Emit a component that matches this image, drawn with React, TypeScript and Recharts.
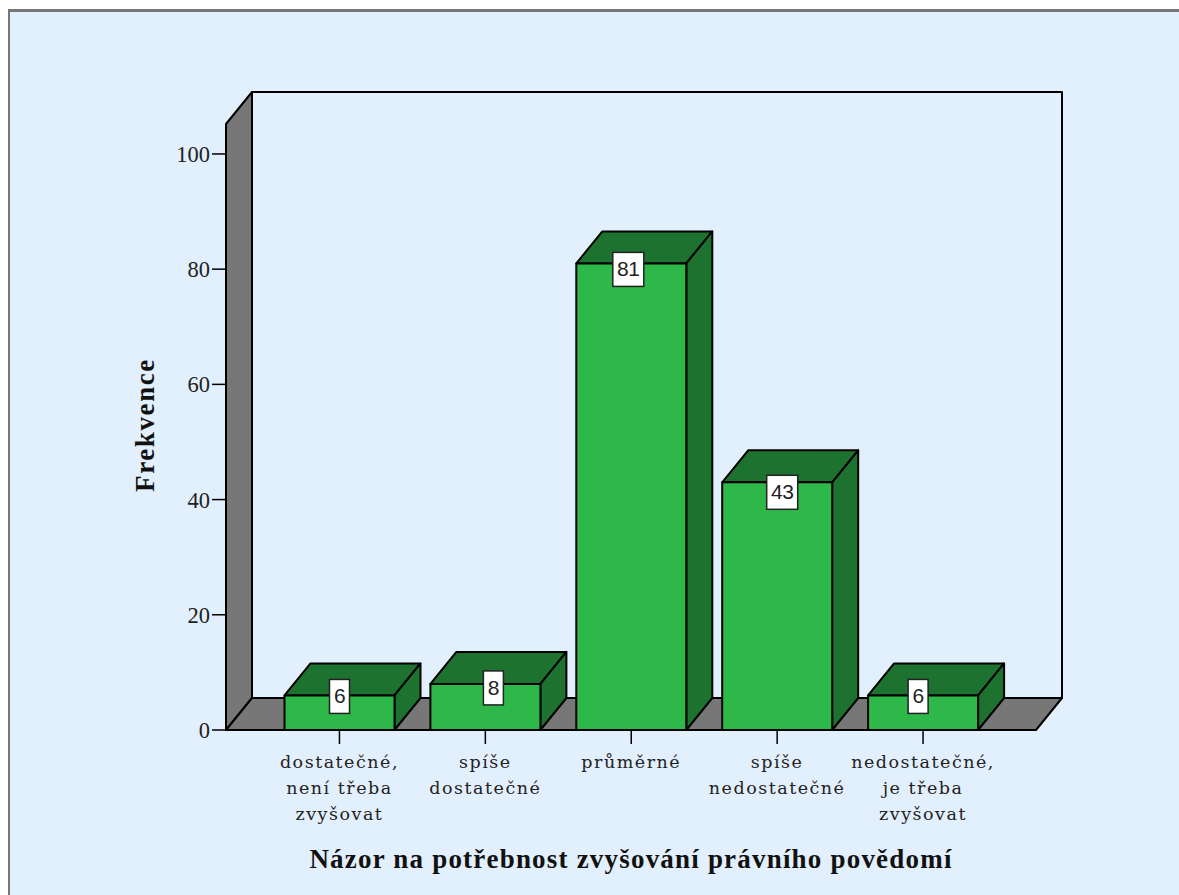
import React from 'react';
import { BarChart, Bar, XAxis, YAxis, LabelList, usePlotArea } from 'recharts';

const categories = [
  'dostatečné, není třeba zvyšovat',
  'spíše dostatečné',
  'průměrné',
  'spíše nedostatečné',
  'nedostatečné, je třeba zvyšovat'
];
const categoryLines = [
  ['dostatečné,', 'není třeba', 'zvyšovat'],
  ['spíše', 'dostatečné'],
  ['průměrné'],
  ['spíše', 'nedostatečné'],
  ['nedostatečné,', 'je třeba', 'zvyšovat']
];
const frequencies = [6, 8, 81, 43, 6];
const yTicks = [0, 20, 40, 60, 80, 100];

// the labels in the picture are not centred on their bars
const labelNudgeX = [0, 8, -3, 5, -5];
const labelNudgeY = [1, 4, 6, 10, 1];

const FRONT = '#2EB84A';
const DARK = '#1E7230';
const WALL = '#777777';
const BG = '#E2EFFC';
const DEPTH_X = 26;
const DEPTH_Y = 32;
const SERIF = '"Liberation Serif", serif';
const SLAB = '"DejaVu Serif", serif';

const chartData = categories.map((category, i) => ({ category, value: frequencies[i] }));

// Left wall, floor and back wall of the 3D box
const Walls = () => {
  const area = usePlotArea();
  if (!area) return null;
  const { x, y, width, height } = area;
  const b = y + height;
  const r = x + width;
  return (
    <g stroke="#000" strokeWidth={2} strokeLinejoin="round">
      <polygon
        points={`${x + DEPTH_X},${y - DEPTH_Y} ${r + DEPTH_X},${y - DEPTH_Y} ${r + DEPTH_X},${b - DEPTH_Y} ${x + DEPTH_X},${b - DEPTH_Y}`}
        fill={BG}
      />
      <polygon
        points={`${x},${y} ${x + DEPTH_X},${y - DEPTH_Y} ${x + DEPTH_X},${b - DEPTH_Y} ${x},${b}`}
        fill={WALL}
      />
      <polygon
        points={`${x},${b} ${x + DEPTH_X},${b - DEPTH_Y} ${r + DEPTH_X},${b - DEPTH_Y} ${r},${b}`}
        fill={WALL}
      />
    </g>
  );
};

const Bar3D = (props: any) => {
  const { x, y, width, height } = props;
  const r = x + width;
  const b = y + height;
  return (
    <g stroke="#000" strokeWidth={2} strokeLinejoin="round">
      <polygon
        points={`${x},${y} ${x + DEPTH_X},${y - DEPTH_Y} ${r + DEPTH_X},${y - DEPTH_Y} ${r},${y}`}
        fill={DARK}
      />
      <polygon
        points={`${r},${y} ${r + DEPTH_X},${y - DEPTH_Y} ${r + DEPTH_X},${b - DEPTH_Y} ${r},${b}`}
        fill={DARK}
      />
      <rect x={x} y={y} width={width} height={height} fill={FRONT} />
    </g>
  );
};

const ValueLabel = (props: any) => {
  const { x, y, width, value, index } = props;
  const text = String(value);
  const w = text.length > 1 ? 31 : 20;
  const cx = x + width / 2 + labelNudgeX[index];
  const cy = y + labelNudgeY[index];
  return (
    <g>
      <rect x={cx - w / 2} y={cy - 17} width={w} height={34} fill="#fff" stroke="#222" strokeWidth={1.5} />
      <text
        x={cx}
        y={cy + 7}
        textAnchor="middle"
        fontFamily='"Liberation Sans", sans-serif'
        fontSize={21}
        letterSpacing={-0.5}
        fill="#222"
      >
        {text}
      </text>
    </g>
  );
};

const CategoryTick = (props: any) => {
  const { x, y, index } = props;
  return (
    <text textAnchor="middle" fontFamily={SLAB} fontSize={17.5} letterSpacing={1.5} fill="#222">
      {categoryLines[index].map((line, i) => (
        <tspan key={line} x={x} y={y + 22 + i * 26}>
          {line}
        </tspan>
      ))}
    </text>
  );
};

const YTitle = (props: any) => {
  const { x, y, height } = props.viewBox;
  const cx = x + 28;
  const cy = y + height / 2 - 2;
  return (
    <text
      transform={`rotate(-90 ${cx} ${cy})`}
      x={cx}
      y={cy}
      textAnchor="middle"
      fontFamily={SERIF}
      fontWeight={700}
      fontSize={27}
      letterSpacing={1.6}
      fill="#111"
    >
      Frekvence
    </text>
  );
};

const App = () => (
  <div style={{ position: 'absolute', left: 0, top: 0, width: 1179, height: 895, background: '#fff', overflow: 'hidden' }}>
    <div
      style={{
        position: 'absolute',
        left: 8,
        top: 9,
        right: 0,
        bottom: 0,
        background: BG,
        borderTop: '3px solid #777',
        borderLeft: '2px solid #777'
      }}
    />
    <div style={{ position: 'absolute', left: 0, top: 0 }}>
      <BarChart
        width={1179}
        height={895}
        data={chartData}
        margin={{ top: 124, right: 143, left: 126, bottom: 0 }}
        barSize={110}
      >
        <Walls />
        <XAxis
          dataKey="category"
          height={165}
          padding={{ left: 40.5, right: 40 }}
          interval={0}
          tickSize={14}
          tickLine={{ stroke: '#000', strokeWidth: 1.5 }}
          axisLine={{ stroke: '#000', strokeWidth: 2 }}
          tick={<CategoryTick />}
          label={{
            value: 'Názor na potřebnost zvyšování právního povědomí',
            position: 'insideBottom',
            offset: 27,
            fontFamily: SERIF,
            fontWeight: 700,
            fontSize: 27,
            letterSpacing: 1.2,
            fill: '#111'
          }}
        />
        <YAxis
          width={100}
          domain={[0, 105.2]}
          ticks={yTicks}
          interval={0}
          tickSize={14}
          tickMargin={2}
          tickLine={{ stroke: '#000', strokeWidth: 1.5 }}
          axisLine={{ stroke: '#000', strokeWidth: 2 }}
          tick={{ fontFamily: SERIF, fontSize: 22.5, fill: '#222' }}
          label={<YTitle />}
        />
        <Bar dataKey="value" shape={<Bar3D />} isAnimationActive={false}>
          <LabelList dataKey="value" content={<ValueLabel />} />
        </Bar>
      </BarChart>
    </div>
  </div>
);

export default App;
